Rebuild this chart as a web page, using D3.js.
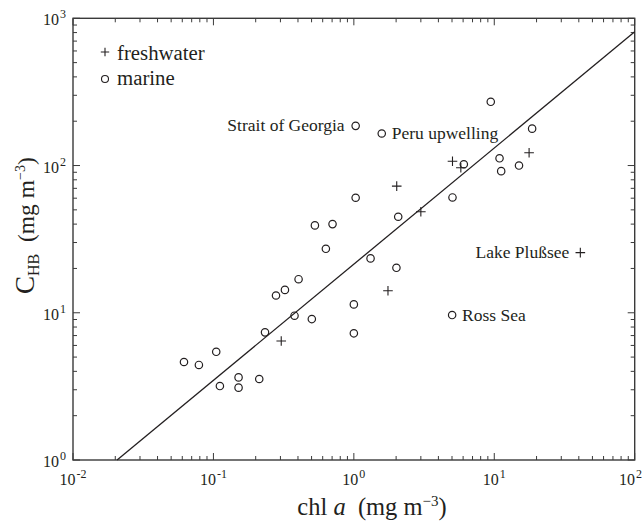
<!DOCTYPE html>
<html>
<head>
<meta charset="utf-8">
<script src="https://cdn.jsdelivr.net/npm/d3@7"></script>
<style>
  html, body { margin: 0; padding: 0; background: #fff; }
  svg { display: block; }
  text { font-family: "Liberation Serif", "Times New Roman", serif; fill: #231f20; }
</style>
</head>
<body>
<svg id="chart" width="644" height="521"></svg>
<script>
// ---- data ----
const freshChl = [0.304, 1.75, 3.0, 2.02, 5.04, 5.78, 17.7, 41.0];
const freshC   = [6.43, 14.1, 48.5, 72.5, 107, 96.6, 122, 25.6];

const marineChl = [0.0617, 0.0788, 0.1047, 0.1112, 0.151, 0.151, 0.212, 0.233, 0.279, 0.323,
                   0.404, 0.378, 0.502, 1.0, 1.0, 0.632, 0.528, 0.705, 1.315, 2.01,
                   1.03, 2.07, 5.04, 6.07, 10.9, 11.2, 15.0, 9.44, 18.6, 1.03,
                   1.58, 5.01];
const marineC   = [4.63, 4.42, 5.43, 3.18, 3.64, 3.10, 3.55, 7.36, 13.1, 14.3,
                   16.9, 9.55, 9.06, 11.4, 7.25, 27.2, 39.2, 40.0, 23.4, 20.2,
                   60.4, 44.9, 60.7, 102, 112, 91.6, 100, 271, 178, 186,
                   165, 9.65];

// regression line end points
const fitChl = [0.0206, 100];
const fitC   = [1, 809];

// annotations
const noteText = ["Strait of Georgia", "Peru upwelling", "Ross Sea", "Lake Plußsee"];
const noteChl  = [1.03, 1.58, 5.01, 41.0];
const noteC    = [186, 165, 9.65, 25.6];
const noteSide = ["left", "right", "right", "left"];

const xTickExp = [-2, -1, 0, 1, 2];
const yTickExp = [0, 1, 2, 3];
const legendLabels = ["freshwater", "marine"];

// ---- layout ----
const svg = d3.select("#chart");
const L = 73, R = 634.7, T = 18.3, B = 460;
const x = d3.scaleLog().domain([1e-2, 1e2]).range([L, R]);
const y = d3.scaleLog().domain([1, 1e3]).range([B, T]);
const ink = "#231f20";
const axisCol = "#3a3a3a";

function minorVals(lo, hi) {
  const v = [];
  for (let e = lo; e < hi; e++) for (let m = 2; m <= 9; m++) v.push(m * Math.pow(10, e));
  return v;
}
const xMinor = minorVals(-2, 2), yMinor = minorVals(0, 3);
const xMajor = xTickExp.map(e => Math.pow(10, e)), yMajor = yTickExp.map(e => Math.pow(10, e));

const tickG = svg.append("g").attr("stroke", axisCol).attr("stroke-width", 1);
function vTicks(vals, len) {
  vals.forEach(v => {
    tickG.append("line").attr("x1", x(v)).attr("x2", x(v)).attr("y1", B).attr("y2", B - len);
    tickG.append("line").attr("x1", x(v)).attr("x2", x(v)).attr("y1", T).attr("y2", T + len);
  });
}
function hTicks(vals, len) {
  vals.forEach(v => {
    tickG.append("line").attr("y1", y(v)).attr("y2", y(v)).attr("x1", L).attr("x2", L + len);
    tickG.append("line").attr("y1", y(v)).attr("y2", y(v)).attr("x1", R).attr("x2", R - len);
  });
}
vTicks(xMajor, 7); vTicks(xMinor, 4);
hTicks(yMajor, 7); hTicks(yMinor, 4);

svg.append("rect").attr("x", L).attr("y", T).attr("width", R - L).attr("height", B - T)
  .attr("fill", "none").attr("stroke", axisCol).attr("stroke-width", 1.4);

function powLabel(sel, e) {
  sel.append("tspan").attr("font-size", 16).text("10");
  sel.append("tspan").attr("font-size", 12).attr("dx", 1).attr("dy", -7).text(e < 0 ? "-" + Math.abs(e) : String(e));
}
xTickExp.forEach((e, i) => {
  const last = i === xTickExp.length - 1;
  const t = svg.append("text")
    .attr("x", last ? 642 : x(Math.pow(10, e)))
    .attr("y", 485)
    .attr("text-anchor", last ? "end" : "middle");
  powLabel(t, e);
});
yTickExp.forEach(e => {
  const t = svg.append("text").attr("x", 66).attr("y", y(Math.pow(10, e)) + 7).attr("text-anchor", "end");
  powLabel(t, e);
});

// axis titles
const xt = svg.append("text").attr("x", 372).attr("y", 515).attr("text-anchor", "middle").attr("font-size", 24.5);
xt.append("tspan").text("chl ");
xt.append("tspan").attr("font-style", "italic").text("a");
xt.append("tspan").text("\u00a0 (mg m");
xt.append("tspan").attr("font-size", 15).attr("dy", -9).text("\u2212" + "3");
xt.append("tspan").attr("dy", 9).text(")");

const yt = svg.append("text").attr("transform", "translate(34,294) rotate(-90)").attr("text-anchor", "start").attr("font-size", 23.5);
yt.append("tspan").attr("font-size", 27).text("C");
yt.append("tspan").attr("font-size", 16).attr("dy", 5).text("HB");
yt.append("tspan").attr("dy", -5).text("\u00a0 (mg m");
yt.append("tspan").attr("font-size", 14).attr("dy", -9).text("\u2212" + "3");
yt.append("tspan").attr("dy", 9).text(")");

// regression line
const lineGen = d3.line().x(d => x(d[0])).y(d => y(d[1]));
svg.append("path").datum(d3.zip(fitChl, fitC)).attr("d", lineGen)
  .attr("fill", "none").attr("stroke", ink).attr("stroke-width", 1.3);

function drawPlus(g, cx, cy, s) {
  g.append("path").attr("d", `M${cx - s},${cy}H${cx + s}M${cx},${cy - s}V${cy + s}`)
    .attr("stroke", ink).attr("stroke-width", 1.1).attr("fill", "none");
}
const mg = svg.append("g");
d3.zip(marineChl, marineC).forEach(d => {
  mg.append("circle").attr("cx", x(d[0])).attr("cy", y(d[1])).attr("r", 3.7)
    .attr("fill", "none").attr("stroke", ink).attr("stroke-width", 1.2);
});
const fg = svg.append("g");
d3.zip(freshChl, freshC).forEach(d => drawPlus(fg, x(d[0]), y(d[1]), 4.8));

noteText.forEach((t, i) => {
  const left = noteSide[i] === "left";
  svg.append("text").attr("x", x(noteChl[i]) + (left ? -11 : 10)).attr("y", y(noteC[i]) + 5.5)
    .attr("text-anchor", left ? "end" : "start").attr("font-size", 17.5).text(t);
});

const lg = svg.append("g");
drawPlus(lg, 105, 52, 4.2);
lg.append("circle").attr("cx", 105).attr("cy", 79).attr("r", 3.5)
  .attr("fill", "none").attr("stroke", ink).attr("stroke-width", 1.1);
lg.append("text").attr("x", 117).attr("y", 60).attr("font-size", 20.8).text(legendLabels[0]);
lg.append("text").attr("x", 117).attr("y", 85).attr("font-size", 20.8).text(legendLabels[1]);
</script>
</body>
</html>
